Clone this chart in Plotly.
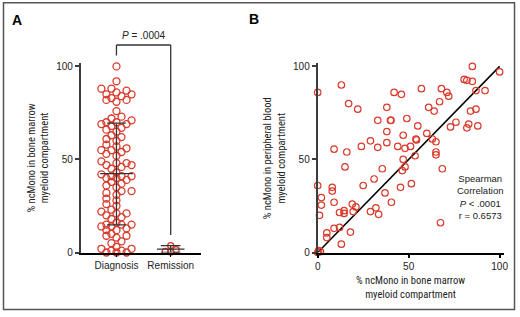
import plotly.graph_objects as go

# ---------------- data ----------------
groups = ["Diagnosis", "Remission"]
diag_vals = [100, 92, 88, 88, 87, 86, 85, 85, 84, 83, 82, 82, 81, 76, 73, 72, 71,
             70, 70, 69, 69, 68, 67, 66, 65, 63, 62, 61, 60, 58, 57, 56, 55, 55,
             54, 53, 52, 49, 48, 48, 47, 47, 46, 45, 43, 42, 41, 41, 41, 40, 40,
             39, 38, 37, 36, 35, 33, 33, 32, 31, 29, 28, 26, 25, 23, 22, 21, 21,
             20, 19, 18, 16, 15, 15, 15, 14, 14, 13, 12, 12, 10, 9, 9, 8, 6, 5,
             3, 2, 2, 1, 1, 0, 0, 0]
rem_vals = [0.2, 1.5, 3.7, 0.6]
diag_summary = {"median": 42.4, "low": 14.8, "high": 69.5}
rem_summary = {"median": 1.8, "low": 0.0, "high": 3.7}
p_bracket = {"top": 111.5, "left_bottom": 105.8, "right_bottom": 9.4, "text_y": 116.5}

bm_x = [0, 13, 17, 22, 9, 16, 24, 29, 33, 33, 38, 38, 38, 40, 40.3, 42, 46, 44, 47, 48,
        49, 51, 55, 54, 54.3, 57, 60, 61, 63, 64, 65, 65, 65, 67, 68, 71, 72, 73, 76,
        80.5, 82, 82, 83, 84, 85, 85, 87, 87, 88, 92, 100,
        15, 0, 8, 8, 2, 2, 9, 1, 12, 14.5, 14.5, 19, 21, 19.5, 25, 31, 35.5, 37, 40.5,
        32, 29, 33.5, 47, 48, 46.5, 53.5, 45.5, 51.5, 68.5, 67.5, 5, 5, 9, 12, 18, 13,
        0, 1.5, 0.5]
pb_y = [86, 90, 80, 77, 55.5, 54, 57, 60, 56.5, 71, 78, 65, 59, 71, 71, 86, 85, 57, 63, 56,
        72, 57, 68, 61, 60.5, 88, 64, 78, 61, 76, 59.5, 54, 52.5, 81, 88, 86, 84, 67.5, 70,
        93, 92.5, 67, 69, 76, 92, 100, 87, 77, 68, 87, 97,
        46, 36, 35, 33, 29.5, 25.5, 27, 20, 21.5, 22.5, 21, 26, 24.5, 22, 36, 39.5, 45, 32, 27,
        24, 22, 20.5, 50, 46, 44, 52, 35, 37, 45, 16, 10.5, 8, 13, 13.5, 11, 4.5,
        0, 0.5, 1]
line_x = [0, 100]
line_y = [0, 100]

RED = "#d93a2b"
AXC = "#3c3c3c"
W, H = 520, 317

# panel geometry (pixels)
A_x0, A_x1, A_ytop, A_ybot = 79, 201, 63, 257
B_x0, B_x1 = 319, 508
Y_RANGE = [0, 101.6]
A_XRANGE = [-0.655, 1.564]
B_XRANGE = [0, 102.5]

def py_to_paper(py):
    return 1 - py / H

ydom = [py_to_paper(A_ybot), py_to_paper(A_ytop)]
px_per_y = (A_ybot - A_ytop) / (Y_RANGE[1] - Y_RANGE[0])
px_per_cat = (A_x1 - A_x0) / (A_XRANGE[1] - A_XRANGE[0])

def y_to_paper(v):
    return ydom[0] + (v - Y_RANGE[0]) / (Y_RANGE[1] - Y_RANGE[0]) * (ydom[1] - ydom[0])

def beeswarm(vals, center, step=5.1, mind=5.6, maxcol=3):
    placed = []
    xs = [None] * len(vals)
    order = sorted(range(len(vals)), key=lambda i: vals[i])
    cands = [0]
    for n in range(1, maxcol + 1):
        cands += [-n, n]
    for i in order:
        ypx = vals[i] * px_per_y
        best, bestd = None, -1
        for c in cands:
            xpx = c * step
            d = min([((xpx - a) ** 2 + (ypx - b) ** 2) ** 0.5 for a, b in placed] or [99])
            if d >= mind:
                best = c
                break
            if d > bestd:
                best, bestd = c, d
        placed.append((best * step, ypx))
        xs[i] = center + best * step / px_per_cat
    return xs

diag_x = beeswarm(diag_vals, 0)
rem_x = beeswarm(rem_vals, 1, step=5.5, mind=5.0)

fig = go.Figure()

def add_errbar(cx, s, half_med, half_cap):
    hm = half_med / px_per_cat
    hc = half_cap / px_per_cat
    for xs_, ys_ in [([cx, cx], [s["low"], s["high"]]),
                     ([cx - hm, cx + hm], [s["median"], s["median"]]),
                     ([cx - hc, cx + hc], [s["low"], s["low"]]),
                     ([cx - hc, cx + hc], [s["high"], s["high"]])]:
        fig.add_trace(go.Scatter(x=xs_, y=ys_, mode="lines", xaxis="x", yaxis="y",
                                 line=dict(color="#333333", width=1.3),
                                 showlegend=False, hoverinfo="skip"))

fig.add_trace(go.Scatter(x=diag_x, y=diag_vals, mode="markers", xaxis="x", yaxis="y",
                         marker=dict(symbol="circle-open", size=7, color=RED,
                                     line=dict(width=1.3)),
                         cliponaxis=False, showlegend=False))
fig.add_trace(go.Scatter(x=rem_x, y=rem_vals, mode="markers", xaxis="x", yaxis="y",
                         marker=dict(symbol="circle-open", size=6, color=RED,
                                     line=dict(width=1.3)),
                         cliponaxis=False, showlegend=False))
add_errbar(0, diag_summary, 16.5, 9.5)
add_errbar(1, rem_summary, 14, 10)

fig.add_trace(go.Scatter(x=line_x, y=line_y, mode="lines", xaxis="x2", yaxis="y2",
                         line=dict(color="black", width=1.5), showlegend=False))
fig.add_trace(go.Scatter(x=bm_x, y=pb_y, mode="markers", xaxis="x2", yaxis="y2",
                         marker=dict(symbol="circle-open", size=6.5, color=RED,
                                     line=dict(width=1.2)),
                         cliponaxis=False, showlegend=False))

tickfont = dict(family="Liberation Sans, Arial, sans-serif", size=10, color="#222")
common_y = dict(range=Y_RANGE, domain=ydom, showline=True, linecolor=AXC, linewidth=2,
                ticks="outside", ticklen=4, tickwidth=1.5, tickcolor=AXC,
                tickvals=[0, 50, 100], showgrid=False, zeroline=False, tickfont=tickfont)

fig.update_layout(
    width=W, height=H, autosize=False,
    margin=dict(l=0, r=0, t=0, b=0),
    paper_bgcolor="white", plot_bgcolor="white",
    xaxis=dict(domain=[A_x0 / W, A_x1 / W], range=A_XRANGE, showline=True,
               linecolor="black", linewidth=1.8, ticks="outside", ticklen=3,
               tickcolor="black", tickvals=[0, 1], ticktext=groups, showgrid=False,
               zeroline=False, tickfont=tickfont),
    yaxis=dict(anchor="x", **common_y),
    xaxis2=dict(domain=[B_x0 / W, B_x1 / W], range=B_XRANGE, showline=True,
                linecolor="black", linewidth=1.8, ticks="outside", ticklen=4,
                tickwidth=1.5, tickcolor="black", tickvals=[0, 50, 100],
                showgrid=False, zeroline=False, tickfont=tickfont, anchor="y2"),
    yaxis2=dict(anchor="x2", **common_y),
)

narrow = dict(family="Roboto Condensed, Liberation Sans Narrow, DejaVu Sans Condensed, sans-serif",
              size=10.5, color="#222")
reg = dict(family="Liberation Sans, Arial, sans-serif", size=10, color="#222")

def pann(text, px, py, font, **kw):
    return dict(text=text, x=px / W, y=py_to_paper(py), xref="paper", yref="paper",
                xanchor="center", yanchor="middle", showarrow=False, font=font, **kw)

bold = dict(family="Liberation Sans, Arial", size=14, color="black")
ann = [
    pann("<b>A</b>", 14, 18, bold),
    pann("<b>B</b>", 254, 17, bold),
    pann("% ncMono in bone marrow<br>myeloid compartment", 36, 160, narrow, textangle=-90),
    pann("% ncMono in peripheral blood<br>myeloid compartment", 276, 160, narrow, textangle=-90),
    pann("% ncMono in bone marrow<br>myeloid compartment", 413, 293, narrow),
    pann("Spearman<br>Correlation<br><i>P</i> < .0001<br>r = 0.6573", 484, 200,
         dict(family="Liberation Sans, Arial", size=9.5, color="#222"), align="center"),
    dict(text="<i>P</i> = .0004", x=0.5, xref="x", y=y_to_paper(p_bracket["text_y"]),
         yref="paper", xanchor="center", yanchor="middle", showarrow=False, font=reg),
]
fig.update_layout(annotations=ann)

bl = dict(color="#333333", width=1.3)
shapes = [
    dict(type="line", xref="x", yref="paper", x0=0, x1=0,
         y0=y_to_paper(p_bracket["left_bottom"]), y1=y_to_paper(p_bracket["top"]), line=bl),
    dict(type="line", xref="x", yref="paper", x0=0, x1=1,
         y0=y_to_paper(p_bracket["top"]), y1=y_to_paper(p_bracket["top"]), line=bl),
    dict(type="line", xref="x", yref="paper", x0=1, x1=1,
         y0=y_to_paper(p_bracket["right_bottom"]), y1=y_to_paper(p_bracket["top"]), line=bl),
    dict(type="rect", xref="paper", yref="paper", x0=0.5 / W, x1=518.5 / W,
         y0=py_to_paper(315.5), y1=py_to_paper(0.8), line=dict(color="#555555", width=1.5)),
]
fig.update_layout(shapes=shapes)

fig.write_html("out.html", config={"displayModeBar": False},
               post_script="document.body.style.margin='0';document.body.style.overflow='hidden';")
